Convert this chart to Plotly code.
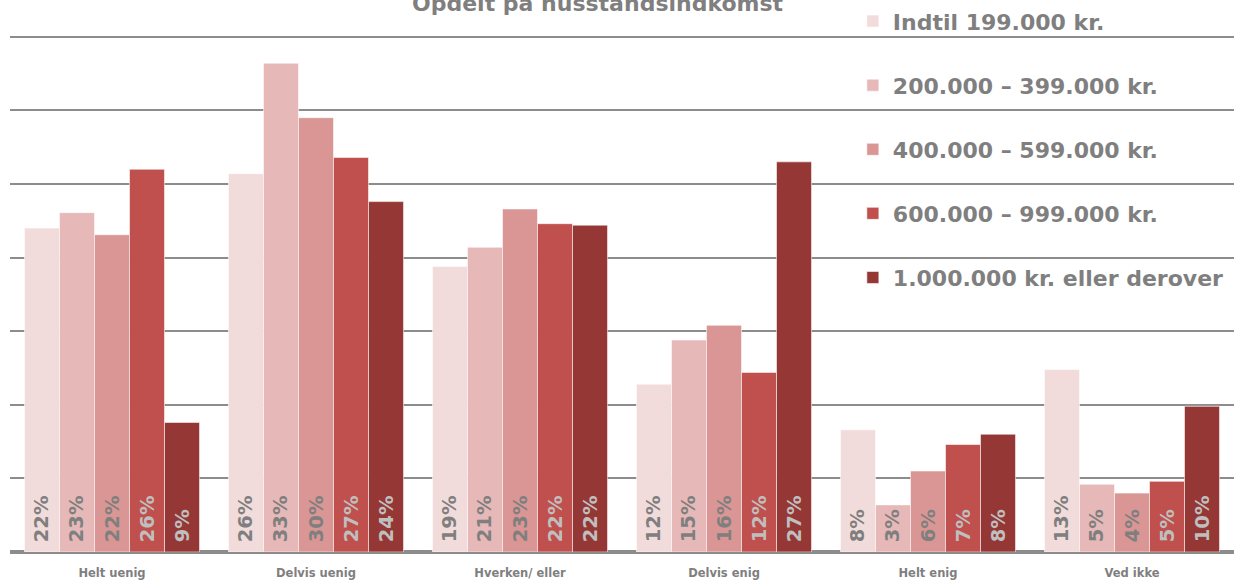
import plotly.graph_objects as go

categories = ["Helt uenig", "Delvis uenig", "Hverken/ eller", "Delvis enig", "Helt enig", "Ved ikke"]
series_names = ["Indtil 199.000 kr.", "200.000 – 399.000 kr.", "400.000 – 599.000 kr.",
                "600.000 – 999.000 kr.", "1.000.000 kr. eller derover"]

# bar heights (percent)
v_199 = [22.0, 25.7, 19.4, 11.4, 8.3, 12.4]
v_399 = [23.05, 33.2, 20.7, 14.4, 3.2, 4.6]
v_599 = [21.55, 29.5, 23.3, 15.4, 5.5, 4.0]
v_999 = [26.0, 26.8, 22.3, 12.2, 7.3, 4.8]
v_1m = [8.8, 23.8, 22.2, 26.5, 8.0, 9.9]

# printed data labels
l_199 = [22, 26, 19, 12, 8, 13]
l_399 = [23, 33, 21, 15, 3, 5]
l_599 = [22, 30, 23, 16, 6, 4]
l_999 = [26, 27, 22, 12, 7, 5]
l_1m = [9, 24, 22, 27, 8, 10]

values = [v_199, v_399, v_599, v_999, v_1m]
labels = [l_199, l_399, l_599, l_999, l_1m]
colors = ["#F2DCDB", "#E6B9B8", "#D99694", "#C0504D", "#953735"]
text_colors = ["#7F7F7F", "#7F7F7F", "#7F7F7F", "#BFBFBF", "#BFBFBF"]

FONT = "DejaVu Sans"
GRAY = "#7F7F7F"

fig = go.Figure()
for i, (name, vals, labs) in enumerate(zip(series_names, values, labels)):
    fig.add_trace(go.Bar(
        x=categories, y=vals, name=name, legendgroup=f"g{i}",
        marker=dict(color=colors[i], line=dict(color="rgba(255,255,255,0.55)", width=1)),
        text=["\u00a0" + f"{l}%" for l in labs],
        texttemplate="%{text}",
        textposition="inside", insidetextanchor="start", textangle=-90,
        constraintext="none",
        textfont=dict(family=FONT, size=19.5, color=text_colors[i], weight="bold"),
        hoverinfo="skip",
    ))

fig.update_layout(
    width=1234, height=585,
    margin=dict(l=10, r=0, t=22, b=33),
    paper_bgcolor="white", plot_bgcolor="white",
    barmode="group", bargap=0.142, bargroupgap=0,
    font=dict(family=FONT, color=GRAY),
    showlegend=True,
    legend=dict(
        x=0.6886, xanchor="left", y=1.041, yanchor="top",
        bgcolor="rgba(0,0,0,0)", borderwidth=0,
        font=dict(family=FONT, size=22, color=GRAY, weight="bold"),
        tracegroupgap=32.5, traceorder="grouped",
        maxheight=580,
    ),
    xaxis=dict(
        showgrid=False, showline=False, zeroline=False,
        ticks="outside", ticklen=10, tickcolor="rgba(0,0,0,0)",
        tickfont=dict(family=FONT, size=11.5, color=GRAY, weight="bold"),
    ),
    yaxis=dict(
        range=[0, 36], dtick=5, showticklabels=False,
        showgrid=True, gridcolor="#8C8C8C", gridwidth=1.5,
        zeroline=True, zerolinecolor="#8C8C8C", zerolinewidth=3.5,
        showline=False,
    ),
    annotations=[dict(
        text="Opdelt på husstandsindkomst", xref="paper", yref="paper",
        x=0.4804, y=1.034, xanchor="center", yanchor="middle", showarrow=False,
        font=dict(family=FONT, size=22, color=GRAY, weight="bold"),
    )],
)

fig.write_html(
    "out.html",
    config={"displayModeBar": False},
    post_script="document.body.style.margin='0';document.body.style.overflow='hidden';",
)
